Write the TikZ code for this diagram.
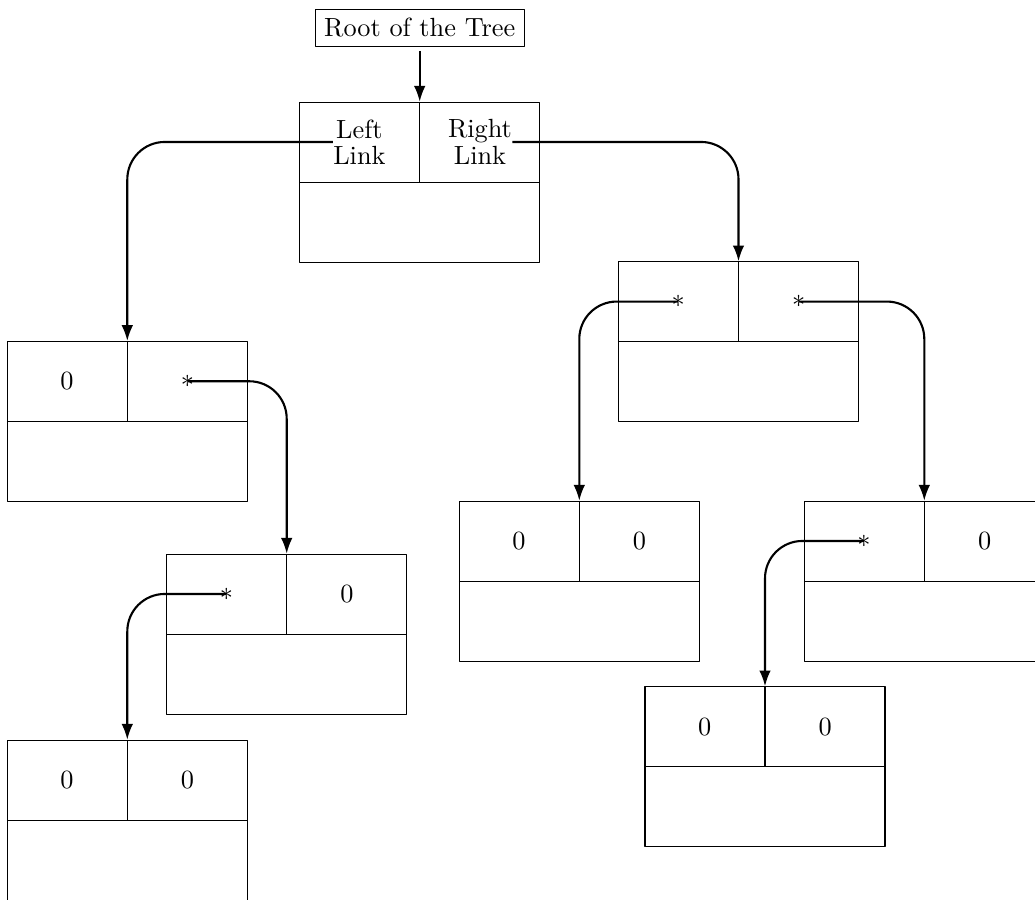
\documentclass[tikz,border=0pt]{standalone}
\usepackage{tikz}
\usepackage{amsmath,amssymb}
\usetikzlibrary{positioning, arrows.meta, calc}

\tikzset{
  treebox/.style={draw, anchor=north, minimum width=91.25pt, minimum height=60.8pt, inner sep=0pt},
  celltext/.style={inner sep=0pt, align=center},
  link/.style={thick, rounded corners=0.5cm, -{Latex[length=6pt,width=4.4pt]}}
}

\begin{document}
\begin{tikzpicture}[x=0.3802pt, y=-0.3802pt, line join=round]

    \useasboundingbox (0,0) rectangle (1035,899);

    % Label above the root
    \node[draw] (label) at (419.7,27.9) {Root of the Tree};

    % Tree nodes (placed by the middle of their top edge)
    \node[treebox] (root) at (419.7,101.7) {};
    \node[treebox] (l)    at (127.3,341)   {};
    \node[treebox] (r)    at (738.5,261.3) {};
    \node[treebox] (lr)   at (286.7,553.7) {};
    \node[treebox] (lrl)  at (127.3,739.7) {};
    \node[treebox] (rl)   at (579.3,500.7) {};
    \node[treebox] (rr)   at (924.3,500.7) {};
    \node[treebox] (rrl)  at (765,686.3)   {};

    % Cell dividers
    \foreach \n in {root,l,r,lr,lrl,rl,rr,rrl} {
        \draw (\n.west) -- (\n.east);
        \draw (\n.north) -- (\n.center);
    }

    % Link fields
    \node[celltext] (root-l) at ($(root.north west)!0.5!(root.center)$) {Left\\[-2pt]Link};
    \node[celltext] (root-r) at ($(root.north east)!0.5!(root.center)$) {Right\\[-2pt]Link};
    \node[celltext] (l-l)   at ($(l.north west)!0.5!(l.center)$)     {0};
    \node[celltext] (l-r)   at ($(l.north east)!0.5!(l.center)$)     {$*$};
    \node[celltext] (r-l)   at ($(r.north west)!0.5!(r.center)$)     {$*$};
    \node[celltext] (r-r)   at ($(r.north east)!0.5!(r.center)$)     {$*$};
    \node[celltext] (lr-l)  at ($(lr.north west)!0.5!(lr.center)$)   {$*$};
    \node[celltext] (lr-r)  at ($(lr.north east)!0.5!(lr.center)$)   {0};
    \node[celltext] (lrl-l) at ($(lrl.north west)!0.5!(lrl.center)$) {0};
    \node[celltext] (lrl-r) at ($(lrl.north east)!0.5!(lrl.center)$) {0};
    \node[celltext] (rl-l)  at ($(rl.north west)!0.5!(rl.center)$)   {0};
    \node[celltext] (rl-r)  at ($(rl.north east)!0.5!(rl.center)$)   {0};
    \node[celltext] (rr-l)  at ($(rr.north west)!0.5!(rr.center)$)   {$*$};
    \node[celltext] (rr-r)  at ($(rr.north east)!0.5!(rr.center)$)   {0};
    \node[celltext] (rrl-l) at ($(rrl.north west)!0.5!(rrl.center)$) {0};
    \node[celltext] (rrl-r) at ($(rrl.north east)!0.5!(rrl.center)$) {0};

    % Pointers
    \draw[link, shorten <=1.6pt] (label.south) -- (root.north);
    \draw[link] (root-l.west) -| (l.north);
    \draw[link] (root-r.east) -| (r.north);
    \draw[link] (l-r.center)  -| (lr.north);
    \draw[link] (lr-l.center) -| (lrl.north);
    \draw[link] (r-l.center)  -| (rl.north);
    \draw[link] (r-r.center)  -| (rr.north);
    \draw[link] (rr-l.center) -| (rrl.north);
\end{tikzpicture}
\end{document}
